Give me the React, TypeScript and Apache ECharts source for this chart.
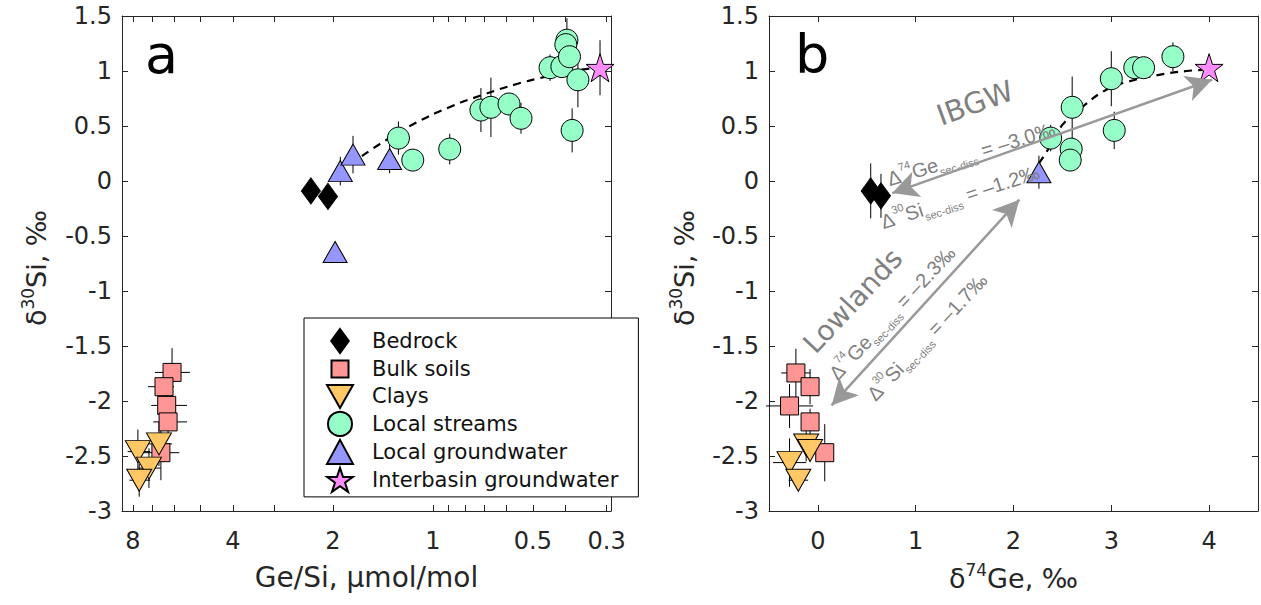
import React, { useEffect, useRef } from 'react';
import * as echarts from 'echarts';

// ---------- DATA ----------
const legendNames = ['Bedrock', 'Bulk soils', 'Clays', 'Local streams', 'Local groundwater', 'Interbasin groundwater'];

// Panel a: [Ge/Si (µmol/mol), δ30Si (‰), δ30Si error, Ge/Si low, Ge/Si high] (0 = no x error)
const bedrockA = [[2.33, -0.09, 0, 0, 0], [2.07, -0.14, 0, 0, 0]];
const soilsA = [
  [6.1, -1.74, 0.22, 5.39, 6.87],
  [6.45, -1.87, 0.12, 6.02, 7.21],
  [6.33, -2.04, 0.15, 5.5, 7.05],
  [6.27, -2.19, 0.12, 5.5, 6.95],
  [6.59, -2.47, 0.25, 5.8, 7.46],
];
const claysA = [
  [7.73, -2.46, 0.2, 7.1, 8.3],
  [6.68, -2.39, 0.2, 6.1, 7.3],
  [7.16, -2.61, 0.18, 6.6, 7.7],
  [7.66, -2.72, 0.15, 7.1, 8.2],
];
const streamsA = [
  [1.27, 0.39, 0.15, 0, 0],
  [1.15, 0.19, 0.05, 0, 0],
  [0.89, 0.29, 0.14, 0, 0],
  [0.717, 0.645, 0.2, 0, 0],
  [0.669, 0.67, 0.27, 0, 0],
  [0.59, 0.7, 0.1, 0, 0],
  [0.543, 0.57, 0.14, 0, 0],
  [0.444, 1.03, 0.12, 0, 0],
  [0.409, 1.04, 0.1, 0, 0],
  [0.395, 1.28, 0.2, 0, 0],
  [0.398, 1.24, 0.1, 0, 0],
  [0.388, 1.13, 0.1, 0, 0],
  [0.366, 0.92, 0.25, 0, 0],
  [0.381, 0.46, 0.2, 0, 0],
];
const groundwaterA = [
  [1.9, 0.09, 0.13, 0, 0],
  [1.74, 0.24, 0.17, 0, 0],
  [1.35, 0.2, 0.13, 0, 0],
  [1.97, -0.645, 0.05, 0, 0],
];
const interbasinA = [[0.314, 1.03, 0.25, 0, 0]];
const mixingCurveA = [
  [1.636, 0.227], [1.444, 0.336], [1.173, 0.5], [0.889, 0.673], [0.697, 0.79],
  [0.559, 0.882], [0.476, 0.936], [0.395, 0.991], [0.325, 1.027],
];

// Panel b: [δ74Ge (‰), δ30Si (‰), δ30Si error, δ74Ge error]
const bedrockB = [[0.54, -0.09, 0.25, 0], [0.645, -0.135, 0.2, 0]];
const soilsB = [
  [-0.225, -1.745, 0.22, 0.15],
  [-0.08, -1.87, 0.16, 0],
  [-0.29, -2.045, 0.2, 0.24],
  [-0.08, -2.19, 0.12, 0],
  [0.07, -2.47, 0.26, 0],
];
const claysB = [
  [-0.12, -2.4, 0.15, 0],
  [-0.08, -2.45, 0.1, 0],
  [-0.29, -2.56, 0.22, 0.17],
  [-0.2, -2.72, 0.1, 0.1],
];
const streamsB = [
  [2.38, 0.39, 0.12, 0],
  [2.6, 0.67, 0.28, 0],
  [2.59, 0.29, 0.1, 0],
  [2.58, 0.19, 0.1, 0],
  [3.0, 0.93, 0.25, 0],
  [3.03, 0.46, 0.17, 0],
  [3.24, 1.03, 0.05, 0],
  [3.33, 1.03, 0.05, 0],
  [3.63, 1.13, 0.13, 0],
];
const groundwaterB = [[2.26, 0.08, 0.15, 0]];
const interbasinB = [[4.0, 1.03, 0, 0]];
const mixingCurveB = [
  [2.26, 0.16], [2.37, 0.31], [2.5, 0.51], [2.7, 0.67], [2.95, 0.83],
  [3.16, 0.9], [3.46, 0.96], [3.77, 1.0], [3.98, 1.01],
];
const ibgwArrow = [[0.76, -0.11], [4.03, 0.92]];
const lowlandsArrow = [[2.06, -0.17], [0.14, -2.04]];

// Ticks / labels
const geSiTicks = [8, 7, 6, 5, 4, 3, 2, 1, 0.9, 0.8, 0.7, 0.6, 0.5, 0.4, 0.3];
const geSiLabels = [8, 4, 2, 1, 0.5, 0.3];
const geTicks = [0, 1, 2, 3, 4];

// ---------- STYLE ----------
const FONT = 'DejaVu Sans';
const FONT2 = 'Liberation Sans';
const AX = '#262626';
const colors: Record<string, string> = {
  Bedrock: '#000000',
  'Bulk soils': '#FF9696',
  Clays: '#FFC864',
  'Local streams': '#96FFC8',
  'Local groundwater': '#9696FF',
  'Interbasin groundwater': '#FF8CFF',
};
const STAR = 'path://M50,0 L61.8,35.1 L98.9,35.1 L69.1,56.7 L80.9,91.9 L50,70.2 L19.1,91.9 L30.9,56.7 L1.1,35.1 L38.2,35.1 Z';
const symbols: Record<string, any> = {
  Bedrock: { symbol: 'diamond', symbolSize: [19, 26] },
  'Bulk soils': { symbol: 'rect', symbolSize: 18 },
  Clays: { symbol: 'triangle', symbolSize: [25, 22], symbolRotate: 180 },
  'Local streams': { symbol: 'circle', symbolSize: 22 },
  'Local groundwater': { symbol: 'triangle', symbolSize: [24, 21] },
  'Interbasin groundwater': { symbol: STAR, symbolSize: 28 },
};

const errRender = (params: any, api: any) => {
  const x = api.value(0);
  const y = api.value(1);
  const ye = api.value(2);
  const xl = api.value(3);
  const xh = api.value(4);
  const children: any[] = [];
  const st = { stroke: '#000', lineWidth: 1 };
  if (ye > 0) {
    const p1 = api.coord([x, y - ye]);
    const p2 = api.coord([x, y + ye]);
    children.push({ type: 'line', shape: { x1: p1[0], y1: p1[1], x2: p2[0], y2: p2[1] }, style: st });
  }
  if (xl !== 0 && xh !== 0 && xl !== xh) {
    const p1 = api.coord([xl, y]);
    const p2 = api.coord([xh, y]);
    children.push({ type: 'line', shape: { x1: p1[0], y1: p1[1], x2: p2[0], y2: p2[1] }, style: st });
  }
  return { type: 'group', children };
};

const yAxisBase = (gridIndex: number, position: string, labels: boolean) => ({
  type: 'value',
  gridIndex,
  position,
  min: -3,
  max: 1.5,
  interval: 0.5,
  splitLine: { show: false },
  axisLine: { show: true, onZero: false, lineStyle: { color: AX, width: 1 } },
  axisTick: { show: true, inside: true, length: 6, lineStyle: { color: AX } },
  axisLabel: { show: labels, fontSize: 24, color: AX, fontFamily: FONT, margin: 10 },
});

const titleRich = {
  a: { fontSize: 27, lineHeight: 34, color: AX, fill: AX, fontFamily: FONT },
  s: { fontSize: 17, lineHeight: 17, verticalAlign: 'top', color: AX, fill: AX, fontFamily: FONT },
};

const xAxisA = (position: string, labels: boolean) => ({
  type: 'log',
  logBase: 2,
  gridIndex: 0,
  position,
  inverse: true,
  min: 0.291,
  max: 8.63,
  splitLine: { show: false },
  axisLine: { show: true, onZero: false, lineStyle: { color: AX, width: 1 } },
  axisTick: { show: true, inside: true, length: 6, lineStyle: { color: AX }, customValues: geSiTicks },
  axisLabel: {
    show: labels,
    fontSize: 24,
    color: AX,
    fontFamily: FONT,
    margin: 18,
    customValues: geSiLabels,
    formatter: (v: number) => String(Number(Number(v).toPrecision(3))),
  },
  minorTick: { show: false },
  ...(labels
    ? {
        name: 'Ge/Si, µmol/mol',
        nameLocation: 'middle',
        nameGap: 52,
        nameTextStyle: { fontFamily: FONT, color: AX, fontSize: 28 },
      }
    : {}),
});

const xAxisB = (position: string, labels: boolean) => ({
  type: 'value',
  gridIndex: 1,
  position,
  min: -0.5,
  max: 4.5,
  splitLine: { show: false },
  axisLine: { show: true, onZero: false, lineStyle: { color: AX, width: 1 } },
  axisTick: { show: true, inside: true, length: 6, lineStyle: { color: AX }, customValues: geTicks },
  axisLabel: { show: labels, fontSize: 24, color: AX, fontFamily: FONT, margin: 18, customValues: geTicks },
  ...(labels
    ? {
        name: '{a|δ}{s|74}{a|Ge, ‰}',
        nameLocation: 'middle',
        nameGap: 50,
        nameTextStyle: { fontFamily: FONT, color: AX, fontSize: 28, rich: titleRich },
      }
    : {}),
});

const scatter = (name: string, data: number[][], xAxisIndex: number, yAxisIndex: number) => ({
  type: 'scatter',
  name,
  xAxisIndex,
  yAxisIndex,
  data: data.map((d) => [d[0], d[1]]),
  ...symbols[name],
  itemStyle: { color: colors[name], borderColor: '#000', borderWidth: 1, opacity: 1 },
  z: 3,
});

const errorA = [...bedrockA, ...soilsA, ...claysA, ...streamsA, ...groundwaterA, ...interbasinA];
const errorB = [...bedrockB, ...soilsB, ...claysB, ...streamsB, ...groundwaterB, ...interbasinB].map((d) => [
  d[0],
  d[1],
  d[2],
  d[3] > 0 ? d[0] - d[3] : 0,
  d[3] > 0 ? d[0] + d[3] : 0,
]);

const GRAY = '#999999';
const TXT = '#7f7f7f';
const annRich = {
  n: { fontSize: 20, lineHeight: 28, fill: TXT, fontFamily: FONT2 },
  sup: { fontSize: 11, lineHeight: 17, verticalAlign: 'top', fill: TXT, fontFamily: FONT2 },
  sub: { fontSize: 11, lineHeight: 9, verticalAlign: 'bottom', fill: TXT, fontFamily: FONT2 },
};
const annText = (text: string, x: number, y: number, deg: number) => ({
  type: 'text',
  x,
  y,
  rotation: (deg * Math.PI) / 180,
  z: 5,
  style: { text, rich: annRich, fill: TXT, fontFamily: FONT2, fontSize: 20, align: 'center', verticalAlign: 'middle' },
});
const bigText = (text: string, x: number, y: number, deg: number, size: number) => ({
  type: 'text',
  x,
  y,
  rotation: (deg * Math.PI) / 180,
  z: 5,
  style: { text, fill: TXT, fontFamily: FONT, fontSize: size, align: 'center', verticalAlign: 'middle' },
});
const yTitle = (x: number, y: number) => ({
  type: 'text',
  x,
  y,
  rotation: Math.PI / 2,
  z: 5,
  style: { text: '{a|δ}{s|30}{a|Si, ‰}', rich: titleRich, fill: AX, fontFamily: FONT, fontSize: 27, align: 'center', verticalAlign: 'middle' },
});

const option: any = {
  animation: false,
  backgroundColor: '#ffffff',
  textStyle: { fontFamily: FONT },
  grid: [
    { left: 122, top: 16, width: 489, height: 495, containLabel: false },
    { left: 769, top: 16, width: 489, height: 495, containLabel: false },
  ],
  xAxis: [xAxisA('bottom', true), xAxisA('top', false), xAxisB('bottom', true), xAxisB('top', false)],
  yAxis: [yAxisBase(0, 'left', true), yAxisBase(0, 'right', false), yAxisBase(1, 'left', true), yAxisBase(1, 'right', false)],
  legend: {
    data: [
      { name: legendNames[0], icon: 'path://M9.5,0 L19,13 L9.5,26 L0,13 Z' },
      { name: legendNames[1], icon: 'path://M-3.5,-3.5 M0,0 L17,0 L17,17 L0,17 Z M20.5,20.5' },
      { name: legendNames[2], icon: 'path://M0,0 L25,0 L12.5,22 Z' },
      { name: legendNames[3] },
      { name: legendNames[4] },
      { name: legendNames[5] },
    ],
    orient: 'vertical',
    left: 304,
    top: 318,
    itemWidth: 26,
    itemHeight: 24,
    itemGap: 2,
    padding: [10, 20, 4, 22],
    backgroundColor: '#ffffff',
    borderColor: '#000000',
    borderWidth: 1,
    borderRadius: 0,
    selectedMode: false,
    textStyle: { fontSize: 21, lineHeight: 24, color: '#111', fontFamily: FONT, padding: [0, 0, 0, 14] },
    z: 10,
  },
  graphic: [
    { type: 'text', x: 145, y: 54, z: 5, style: { text: 'a', fill: '#000', fontFamily: FONT, fontSize: 54, align: 'left', verticalAlign: 'middle' } },
    { type: 'text', x: 795, y: 54, z: 5, style: { text: 'b', fill: '#000', fontFamily: FONT, fontSize: 54, align: 'left', verticalAlign: 'middle' } },
    yTitle(36, 268),
    yTitle(684, 268),
    bigText('IBGW', 975, 103, 20, 29),
    annText('{n|Δ}{sup|74}{n|Ge}{sub|sec-diss}{n| = –3.0‰}', 971, 154, 17),
    annText('{n|Δ}{sup|30}{n|Si}{sub|sec-diss}{n| = –1.2‰}', 960, 197, 18),
    bigText('Lowlands', 853, 301, 47, 28),
    annText('{n|Δ}{sup|74}{n|Ge}{sub|sec-diss}{n| = –2.3‰}', 892, 313, 47),
    annText('{n|Δ}{sup|30}{n|Si}{sub|sec-diss}{n| = –1.7‰}', 927, 337, 47),
  ],
  series: [
    {
      type: 'custom',
      name: 'errA',
      xAxisIndex: 0,
      yAxisIndex: 0,
      renderItem: errRender,
      data: errorA,
      z: 1,
      silent: true,
    },
    {
      type: 'line',
      name: 'curveA',
      xAxisIndex: 0,
      yAxisIndex: 0,
      data: mixingCurveA,
      smooth: true,
      symbol: 'none',
      lineStyle: { color: '#000', width: 2.2, type: [8, 6] },
      z: 2,
      silent: true,
    },
    scatter('Bedrock', bedrockA, 0, 0),
    scatter('Bulk soils', soilsA, 0, 0),
    scatter('Clays', claysA, 0, 0),
    scatter('Local streams', streamsA, 0, 0),
    scatter('Local groundwater', groundwaterA, 0, 0),
    scatter('Interbasin groundwater', interbasinA, 0, 0),
    {
      type: 'custom',
      name: 'errB',
      xAxisIndex: 2,
      yAxisIndex: 2,
      renderItem: errRender,
      data: errorB,
      z: 1,
      silent: true,
    },
    {
      type: 'line',
      name: 'curveB',
      xAxisIndex: 2,
      yAxisIndex: 2,
      data: mixingCurveB,
      smooth: true,
      symbol: 'none',
      lineStyle: { color: '#000', width: 2.2, type: [8, 6] },
      z: 2,
      silent: true,
      markLine: {
        silent: true,
        symbol: ['arrow', 'arrow'],
        symbolSize: [20, 26],
        label: { show: false },
        lineStyle: { color: GRAY, width: 2.5, type: 'solid' },
        data: [
          [{ coord: ibgwArrow[0] }, { coord: ibgwArrow[1] }],
          [{ coord: lowlandsArrow[0] }, { coord: lowlandsArrow[1] }],
        ],
      },
    },
    scatter('Bedrock', bedrockB, 2, 2),
    scatter('Bulk soils', soilsB, 2, 2),
    scatter('Clays', claysB, 2, 2),
    scatter('Local streams', streamsB, 2, 2),
    scatter('Local groundwater', groundwaterB, 2, 2),
    scatter('Interbasin groundwater', interbasinB, 2, 2),
  ],
};

export default function App() {
  const ref = useRef<HTMLDivElement>(null);
  useEffect(() => {
    if (!ref.current) return;
    const chart = echarts.init(ref.current, null, { renderer: 'svg' });
    chart.setOption(option);
    return () => chart.dispose();
  }, []);
  return <div ref={ref} style={{ position: 'absolute', left: 0, top: 0, width: 1261, height: 605, background: '#fff' }} />;
}
